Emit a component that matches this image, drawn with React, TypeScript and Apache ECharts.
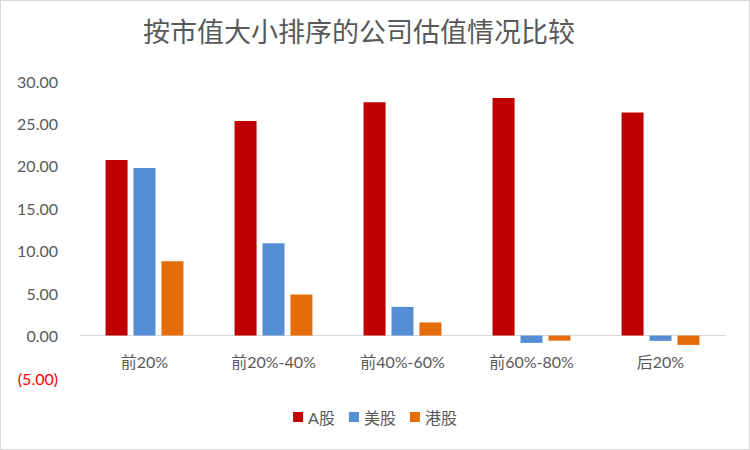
import React, { useEffect, useRef } from "react";
import * as echarts from "echarts";

const categories = ["前20%", "前20%-40%", "前40%-60%", "前60%-80%", "后20%"];
const seriesNames = ["A股", "美股", "港股"];
const aShares = [20.7, 25.3, 27.5, 28.0, 26.3];
const usShares = [19.76, 10.87, 3.38, -0.86, -0.62];
const hkShares = [8.75, 4.84, 1.55, -0.6, -1.1];
const colors = ["#C00000", "#558ED5", "#E46C0A"];
const yTicks = { min: -5, max: 30, interval: 5 };

export default function App() {
  const ref = useRef<HTMLDivElement>(null);
  useEffect(() => {
    if (!ref.current) return;
    const chart = echarts.init(ref.current, null, { renderer: "svg" });
    const font = "Lato, 'Noto Sans CJK SC', sans-serif";
    const data = [aShares, usShares, hkShares];
    chart.setOption({
      animation: false,
      backgroundColor: "#ffffff",
      textStyle: { fontFamily: font },
      title: {
        text: "按市值大小排序的公司估值情况比较",
        left: 137,
        top: 11,
        textStyle: {
          fontFamily: "'Noto Sans CJK SC', sans-serif",
          fontSize: 27,
          fontWeight: "normal",
          color: "#595959",
        },
      },
      legend: {
        data: seriesNames,
        bottom: 19,
        left: "center",
        itemWidth: 10,
        itemHeight: 10,
        itemGap: 14,
        icon: "rect",
        textStyle: { fontSize: 16, color: "#595959", fontFamily: font },
      },
      grid: { left: 79, right: 24, top: 80, bottom: 71 },
      xAxis: {
        type: "category",
        data: categories,
        axisLine: { onZero: true, lineStyle: { color: "#D9D9D9", width: 1 } },
        axisTick: { show: false },
        axisLabel: { color: "#595959", fontSize: 16, margin: -25, fontFamily: font },
      },
      yAxis: {
        type: "value",
        min: yTicks.min,
        max: yTicks.max,
        interval: yTicks.interval,
        splitLine: { show: false },
        axisLine: { show: false },
        axisTick: { show: false },
        axisLabel: {
          color: "#595959",
          fontSize: 16,
          margin: 22,
          fontFamily: font,
          formatter: (v: number) =>
            v < 0 ? `{neg|(${Math.abs(v).toFixed(2)})}` : v.toFixed(2),
          rich: { neg: { color: "#FF0000", fontSize: 16, fontFamily: font } },
        },
      },
      series: seriesNames.map((name, i) => ({
        name,
        type: "bar",
        data: data[i],
        barWidth: 22,
        barGap: "27%",
        itemStyle: { color: colors[i] },
      })),
    });
    return () => chart.dispose();
  }, []);
  return (
    <div
      ref={ref}
      style={{
        position: "absolute",
        left: 0,
        top: 0,
        width: 750,
        height: 450,
        border: "1px solid #D9D9D9",
        boxSizing: "border-box",
      }}
    />
  );
}
